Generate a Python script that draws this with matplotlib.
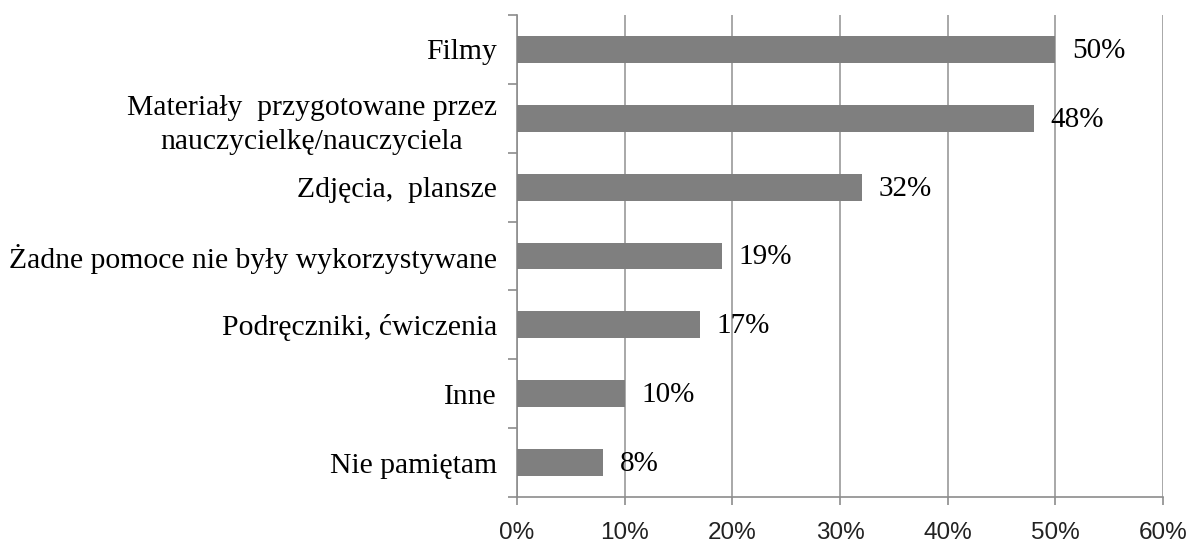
import numpy as np
import matplotlib.pyplot as plt
from matplotlib.ticker import FixedLocator

# chart data, top to bottom
categories = ['Filmy',
              'Materiały  przygotowane przez\nnauczycielkę/nauczyciela',
              'Zdjęcia,  plansze',
              'Żadne pomoce nie były wykorzystywane',
              'Podręczniki, ćwiczenia',
              'Inne',
              'Nie pamiętam']
values = [50, 48, 32, 19, 17, 10, 8]
xticks = [0, 10, 20, 30, 40, 50, 60]

fig = plt.figure(figsize=(11.88, 5.42), dpi=100)
ax = fig.add_axes([0.4352, 0.0830, 0.979 - 0.4352, 0.9723 - 0.0830])

y = np.arange(len(categories))
ax.barh(y, values, height=0.39, color='#7f7f7f', zorder=3)

ax.set_ylim(len(categories) - 0.5, -0.5)
ax.set_xlim(0, 60)

# vertical gridlines
ax.set_xticks(xticks)
ax.set_xticklabels([f'{t}%' for t in xticks], family='Liberation Sans',
                   fontsize=17.5, color='#222222')
ax.grid(axis='x', color='#9a9a9a', linewidth=1.2, zorder=0)

ax.set_yticks(y)
ax.set_yticklabels(categories, family='Liberation Serif', fontsize=21.3,
                   multialignment='center', linespacing=1.4)
ax.tick_params(axis='y', which='major', length=0, pad=14.5)
ax.yaxis.set_minor_locator(FixedLocator(np.arange(-0.5, len(categories), 1)))
ax.tick_params(axis='y', which='minor', length=6.5, color='#8c8c8c', width=1.2)
ax.tick_params(axis='x', length=6, color='#8c8c8c', width=1.2, pad=12)

for s in ['top', 'right']:
    ax.spines[s].set_visible(False)
for s in ['left', 'bottom']:
    ax.spines[s].set_color('#8c8c8c')
    ax.spines[s].set_linewidth(1.2)

for yi, v in zip(y, values):
    ax.annotate(f'{v}%', (v, yi), xytext=(12, -1), textcoords='offset points',
                va='center', ha='left', family='Liberation Serif', fontsize=21)

fig.savefig('out.png', dpi=100)
